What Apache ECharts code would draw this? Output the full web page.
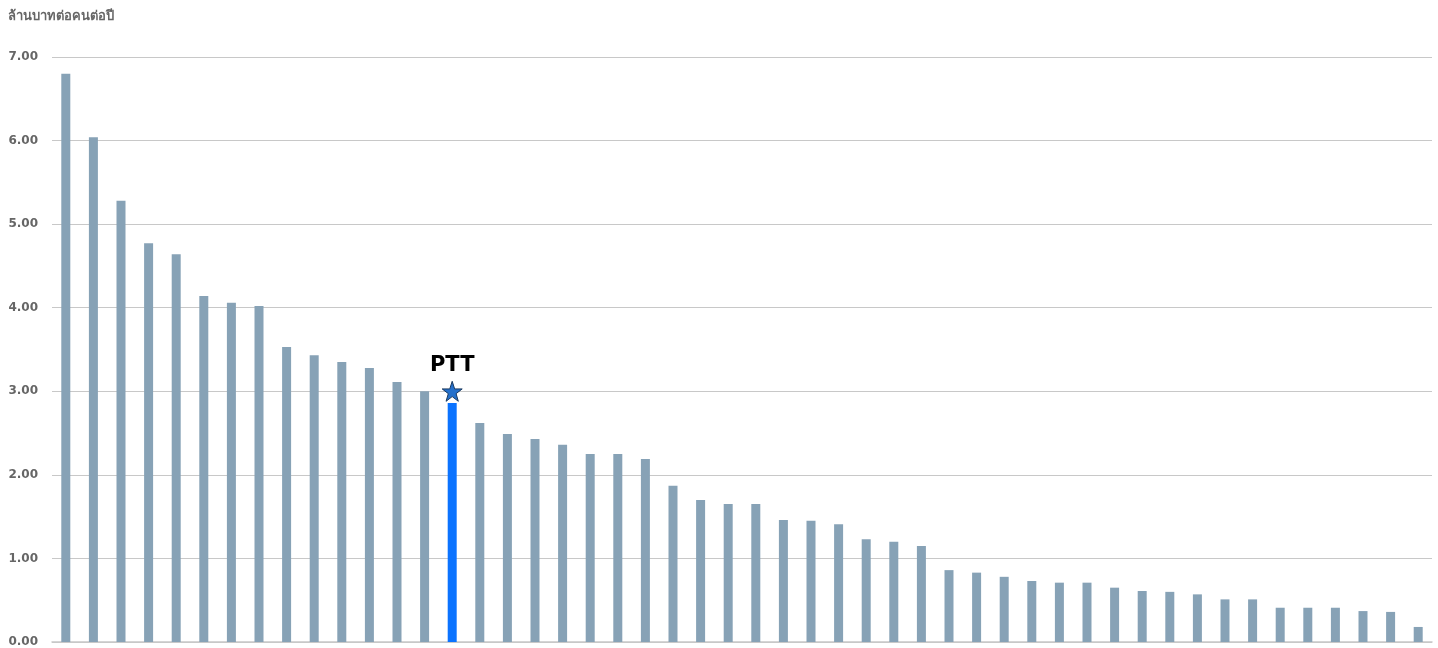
<!DOCTYPE html>
<html><head><meta charset="utf-8">
<script src="https://cdn.jsdelivr.net/npm/echarts@6/dist/echarts.min.js"></script>
<style>html,body{margin:0;padding:0;background:#fff}#c{width:1438px;height:648px}</style>
</head><body><div id="c"></div>
<script>
const yTitle = 'ล้านบาทต่อคนต่อปี';
const categories = Array.from({length:50},(_, i)=>'C'+(i+1));
const values = [6.80,6.04,5.28,4.77,4.64,4.14,4.06,4.02,3.53,3.43,3.35,3.28,3.11,3.00,2.86,2.62,2.49,2.43,2.36,2.25,2.25,2.19,1.87,1.70,1.65,1.65,1.46,1.45,1.41,1.23,1.20,1.15,0.86,0.83,0.78,0.73,0.71,0.71,0.65,0.61,0.60,0.57,0.51,0.51,0.41,0.41,0.41,0.37,0.36,0.18];
const highlightIndex = 14;
const highlightName = 'PTT';
const markerValue = 3.00;

const star = 'path://M50,0 L61.8,35.1 L98.1,35.1 L68.8,56.8 L79.4,91.9 L50,70.3 L20.6,91.9 L31.2,56.8 L1.9,35.1 L38.2,35.1 Z';
const chart = echarts.init(document.getElementById('c'));
chart.setOption({
  animation:false,
  graphic:[{type:'text',left:8,top:10,style:{text:yTitle,fontSize:13,fontWeight:'bold',fill:'#666666',fontFamily:'Tahoma, DejaVu Sans, sans-serif'}}],
  grid:{left:52,right:6,top:57,bottom:6,containLabel:false},
  xAxis:{type:'category',data:categories,axisLabel:{show:false},axisTick:{show:false},
    axisLine:{lineStyle:{color:'#c8c8c8',width:1.5}}},
  yAxis:{type:'value',min:0,max:7,interval:1,
    axisLabel:{formatter:v=>v.toFixed(2),color:'#666666',fontWeight:'bold',fontSize:12,margin:14,fontFamily:'Tahoma, DejaVu Sans, sans-serif'},
    splitLine:{lineStyle:{color:'#c8c8c8',width:1.2}},axisLine:{show:false},axisTick:{show:false}},
  series:[
    {type:'bar',barWidth:9,data:values.map((v,i)=>({value:v,itemStyle:{color:i===highlightIndex?'#0b73ff':'#87a2b6'}}))},
    {type:'scatter',symbol:star,symbolSize:20,
      data:categories.map((c,i)=>i===highlightIndex?markerValue:null),
      itemStyle:{color:'#2470cc',borderColor:'#1a3a60',borderWidth:1,opacity:1},
      label:{show:true,position:'top',distance:5,formatter:highlightName,color:'#000000',fontWeight:'bold',fontSize:21,fontFamily:'Tahoma, DejaVu Sans, sans-serif'},
      emphasis:{disabled:true},
      z:5}
  ]
});
</script></body></html>
